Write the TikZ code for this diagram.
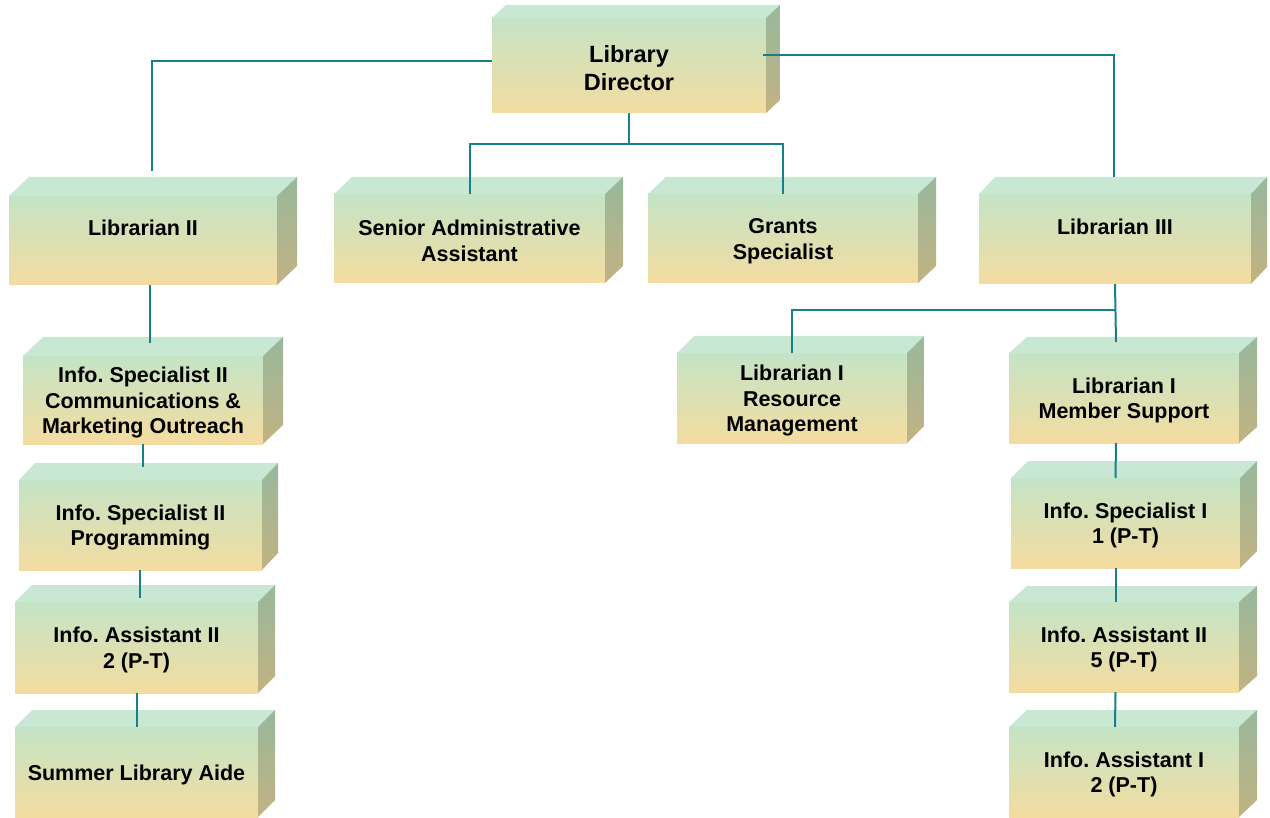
\documentclass[tikz,border=0pt]{standalone}
\usepackage{fontspec}
\setmainfont{Liberation Sans}
\usetikzlibrary{calc}
\frenchspacing
\definecolor{frontTop}{HTML}{C4E4C6}
\definecolor{frontBot}{HTML}{F4DCA0}
\definecolor{topFace}{HTML}{C8E8D4}
\definecolor{sideTop}{HTML}{98B89C}
\definecolor{sideBot}{HTML}{C2B282}
\definecolor{connCol}{HTML}{17808A}
\tikzset{
  front/.style={rectangle, inner sep=0pt, outer sep=0pt, top color=frontTop, bottom color=frontBot, draw=none},
  topface/.style={fill=topFace},
  sideface/.style={top color=sideTop, bottom color=sideBot},
  lbl/.style={font=\fontsize{21.5}{25.5}\selectfont\bfseries\frenchspacing, align=center, text=black, inner sep=0pt, yshift=-2.5pt},
  biglbl/.style={font=\fontsize{23.5}{28}\selectfont\bfseries},
  conn/.style={draw=connCol, line width=2pt},
}
% name, x1, y1, x2, y2, dx, dy, label options, text
\newcommand\obox[9]{%
  \pgfmathsetmacro\bw{#4-#2}\pgfmathsetmacro\bh{#5-#3}%
  \node[front, minimum width=\bw pt, minimum height=\bh pt] (#1) at ({(#2+#4)/2},{(#3+#5)/2}) {};
  \fill[topface] (#1.north west) -- ++(#6,-#7) -- ++(\bw,0) -- (#1.north east) -- cycle;
  \path[sideface] (#1.north east) -- ++(#6,-#7) -- ++(0,\bh) -- (#1.south east) -- cycle;
  \node[lbl,#8] (#1-t) at (#1) {#9};
}
\begin{document}
\begin{tikzpicture}[x=1pt, y=-1pt]
\useasboundingbox (0,0) rectangle (1270,818);
\obox{dir}{492}{18}{766}{113}{14}{13}{biglbl}{Library\\Director}
\obox{lib2}{9}{196}{277}{285}{20}{19}{yshift=15pt}{Librarian II}
\obox{sen}{334}{194}{605}{283}{18}{17}{}{Senior Administrative\\Assistant}
\obox{gra}{648}{194}{918}{283}{18}{17}{}{Grants\\Specialist}
\obox{lib3}{979}{194}{1251}{284}{16}{17}{yshift=15pt}{Librarian III}
\obox{comm}{23}{356}{263}{444}{20}{19}{}{Info. Specialist II\\Communications \&\\Marketing Outreach}
\obox{prog}{19}{480}{262}{570}{16}{17}{}{Info. Specialist II\\Programming}
\obox{a2}{15}{602}{258}{693}{17}{17}{}{Info. Assistant II\\2 (P-T)}
\obox{sum}{15}{727}{258}{817}{17}{17}{}{Summer Library Aide}
\obox{res}{677}{353}{907}{443}{17}{17}{}{Librarian I\\Resource\\Management}
\obox{mem}{1009}{353}{1239}{443}{18}{16}{}{Librarian I\\Member Support}
\obox{is1}{1011}{478}{1240}{568}{17}{17}{}{Info. Specialist I\\1 (P-T)}
\obox{a25}{1009}{602}{1239}{692}{18}{16}{}{Info. Assistant II\\5 (P-T)}
\obox{a1}{1009}{727}{1239}{817}{18}{17}{}{Info. Assistant I\\2 (P-T)}
% connectors
\coordinate (j1) at (629,144);
\coordinate (j2) at (1115,310);
\draw[conn] ([yshift=4pt]dir.west) -| ([xshift=9pt,yshift=25pt]lib2.north);
\draw[conn] ([xshift=-3pt,yshift=10.5pt]dir.east) -| ([xshift=-1.5pt,yshift=17pt]lib3.north);
\draw[conn] (dir.south) -- (j1);
\draw[conn] (sen.north) |- (j1) -| (gra.north);
\draw[conn] ([xshift=7pt]lib2.south) -- ([xshift=7pt,yshift=13pt]comm.north);
\draw[conn] ([xshift=-0.5pt]comm.south) -- ([xshift=2pt,yshift=13pt]prog.north);
\draw[conn] ([xshift=-1pt]prog.south) -- ([xshift=3pt,yshift=4pt]a2.north);
\draw[conn] (a2.south) -- (sum.north);
\draw[conn] (lib3.south) -- ([xshift=-8pt,yshift=11pt]mem.north);
\draw[conn] (res.north) |- (j2);
\draw[conn] ([xshift=-8pt]mem.south) -- ([xshift=-10pt]is1.north);
\draw[conn] ([xshift=-10pt]is1.south) -- ([xshift=-8.5pt]a25.north);
\draw[conn] ([xshift=-8.5pt]a25.south) -- ([xshift=-9pt]a1.north);
\end{tikzpicture}
\end{document}
